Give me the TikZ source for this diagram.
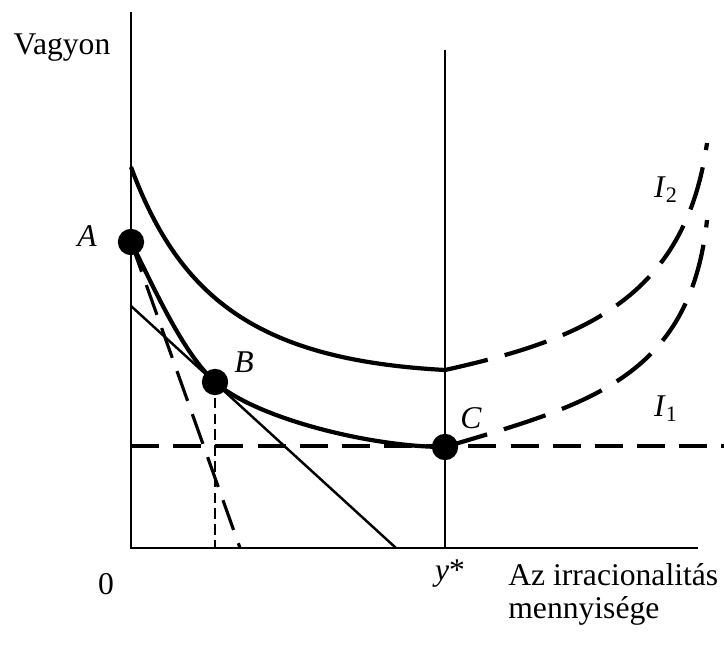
\documentclass[tikz,border=0pt]{standalone}
\usepackage{fontspec}
\setmainfont{Liberation Serif}
\usetikzlibrary{positioning}

\begin{document}
\begin{tikzpicture}[x=0.02cm,y=-0.02cm,
        font=\fontsize{18}{22}\selectfont,
        pont/.style={circle, fill, inner sep=0pt, minimum size=15pt},
        tengely/.style={line width=1.1pt},
        gorbe/.style={line width=2.4pt},
        szaggatott/.style={line width=2.4pt, dash pattern=on 25pt off 10pt}]
        \useasboundingbox (0,0) rectangle (724,651);

        % Coordinates
        \coordinate (ytop) at (131,12);
        \coordinate (o) at (131,548);
        \coordinate (xend) at (698,548);
        \coordinate (ystop) at (445,50);
        \coordinate (ysbot) at (445,548);
        \coordinate (t1) at (131,306);
        \coordinate (t2) at (396,548);
        \coordinate (s2) at (240,548);
        \coordinate (bfoot) at (215,548);
        \coordinate (hstart) at (131,446);
        \coordinate (hend) at (724,446);
        \coordinate (i2start) at (131,167);
        \coordinate (i2kink) at (445,370);
        \coordinate (i2end) at (707,143);
        \coordinate (i1end) at (707,220);

        % Nodes
        \node (A) [pont] at (131,242) {};
        \node (B) [pont] at (215,382) {};
        \node (C) [pont] at (445,447) {};
        \node (lA) [anchor=base] at (87,247) {\textit{A}};
        \node (lB) [anchor=base] at (244,373) {\textit{B}};
        \node (lC) [anchor=base] at (471,429) {\textit{C}};
        \node (lI2) [anchor=base] at (666,198) {\textit{I}\textsubscript{2}};
        \node (lI1) [anchor=base] at (666,417) {\textit{I}\textsubscript{1}};
        \node (vagyon) [anchor=base] at (62,55) {Vagyon};
        \node (nulla) [anchor=base] at (106,595) {0};
        \node (ystar) [anchor=base] at (450,581) {\textit{y}*};
        \node (xlab1) [anchor=base west, inner sep=0pt] at (508,586) {Az irracionalitás};
        \node (xlab2) [anchor=base west, inner sep=0pt] at (508,619) {mennyisége};

        % Lines
        \draw[tengely] (ytop) -- (o) -- (xend);
        \draw[tengely] (ystop) -- (ysbot);
        \draw[line width=1.4pt] (t1) -- (t2);
        \draw[line width=1.8pt, dash pattern=on 18pt off 8pt] (A.center) -- (s2);
        \draw[line width=1.2pt, dash pattern=on 6pt off 3pt] (B.center) -- (bfoot);
        \draw[line width=2.4pt, dash pattern=on 16pt off 8pt] (hstart) -- (hend);

        % Curves
        \draw[gorbe] (A.center) .. controls (156,292) and (183,353) .. (B.center)
            .. controls (255,418) and (370,447) .. (C.center);
        \draw[szaggatott] (C.center) .. controls (585,405) and (690,380) .. (i1end);
        \draw[gorbe] (i2start) .. controls (180,300) and (260,360) .. (i2kink);
        \draw[szaggatott] (i2kink) .. controls (580,340) and (685,300) .. (i2end);
    \end{tikzpicture}
\end{document}
